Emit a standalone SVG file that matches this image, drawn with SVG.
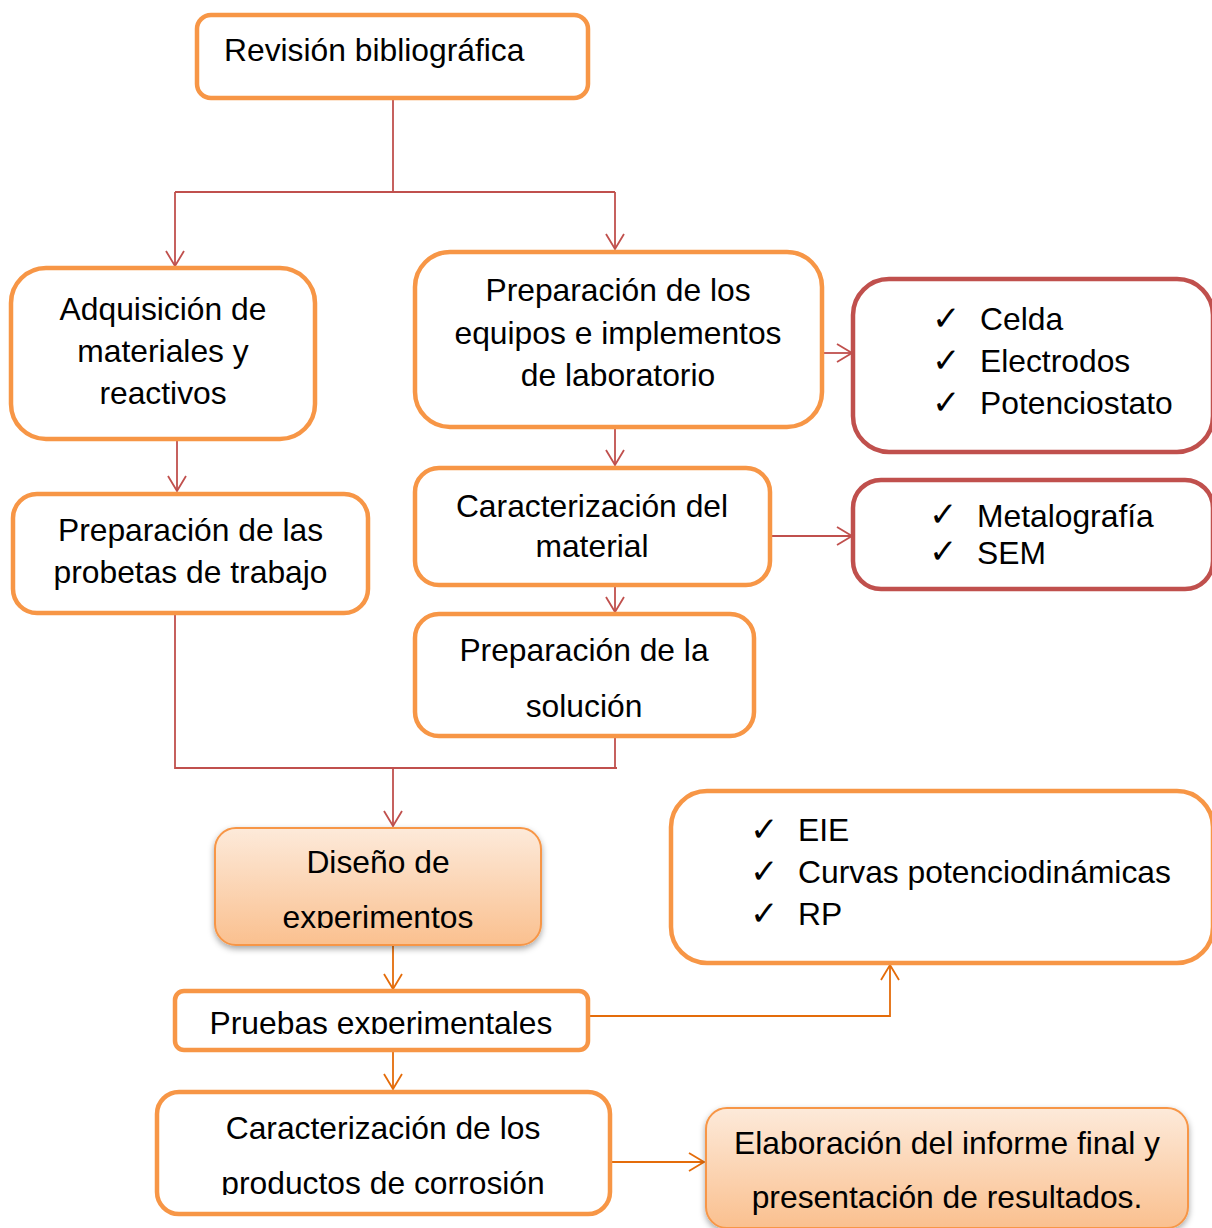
<svg xmlns="http://www.w3.org/2000/svg" width="1212" height="1228" viewBox="0 0 1212 1228">
<style>
  .box { fill: #FFFFFF; stroke: #F79646; stroke-width: 4.5; }
  .rbox { fill: #FFFFFF; stroke: #C0504D; stroke-width: 4.5; }
  .gbox { fill: url(#peach); stroke: #F79646; stroke-width: 2; filter: url(#shadow); }
  .t { font-family: "Liberation Sans", Arial, sans-serif; font-size: 31.8px; fill: #000000; }
  .c { text-anchor: middle; }
  .chk { font-family: "DejaVu Sans", sans-serif; font-size: 34px; fill: #000000; }
  .red { fill: none; stroke: #C0504D; stroke-width: 1.8; }
  .org { fill: none; stroke: #E46C0A; stroke-width: 1.8; }
  .ra { marker-end: url(#arrRed); }
  .oa { marker-end: url(#arrOrg); }
</style>
<defs>
  <linearGradient id="peach" x1="0" y1="0" x2="0" y2="1">
    <stop offset="0" stop-color="#FDEADA"/>
    <stop offset="1" stop-color="#FAC08F"/>
  </linearGradient>
  <filter id="shadow" x="-10%" y="-10%" width="120%" height="130%">
    <feDropShadow dx="0" dy="3" stdDeviation="3" flood-color="#000000" flood-opacity="0.35"/>
  </filter>
  <marker id="arrRed" markerUnits="userSpaceOnUse" markerWidth="20" markerHeight="20" viewBox="0 0 20 20" refX="16" refY="10" orient="auto">
    <path d="M1,1 L16,10 L1,19" fill="none" stroke="#C0504D" stroke-width="1.8"/>
  </marker>
  <marker id="arrOrg" markerUnits="userSpaceOnUse" markerWidth="20" markerHeight="20" viewBox="0 0 20 20" refX="16" refY="10" orient="auto">
    <path d="M1,1 L16,10 L1,19" fill="none" stroke="#E46C0A" stroke-width="1.8"/>
  </marker>
  <clipPath id="clipDis"><rect x="200" y="820" width="360" height="108"/></clipPath>
  <clipPath id="clipPru"><rect x="170" y="985" width="430" height="49"/></clipPath>
  <clipPath id="clipProd"><rect x="150" y="1085" width="470" height="110"/></clipPath>
</defs>

<g id="connectors">
  <polyline class="red" points="393,98 393,192"/>
  <polyline class="red ra" points="175,192 175,266"/>
  <polyline class="red" points="175,192 615,192"/>
  <polyline class="red ra" points="615,192 615,249"/>
  <polyline class="red ra" points="177,440 177,491"/>
  <polyline class="red ra" points="823,353 852,353"/>
  <polyline class="red ra" points="615,427 615,465"/>
  <polyline class="red ra" points="770,536 852,536"/>
  <polyline class="red ra" points="615,586 615,612"/>
  <polyline class="red" points="175,614 175,768 617,768"/>
  <polyline class="red" points="615,736 615,768"/>
  <polyline class="red ra" points="393,768 393,826"/>
  <polyline class="org oa" points="393,946 393,989"/>
  <polyline class="org oa" points="589,1016 890,1016 890,965"/>
  <polyline class="org oa" points="393,1050 393,1089"/>
  <polyline class="org oa" points="611,1162 704,1162"/>
</g>

<g id="n-revision">
  <rect class="box" x="197" y="15" width="391" height="83" rx="14"/>
  <text class="t" x="224" y="61">Revisión bibliográfica</text>
</g>

<g id="n-adquisicion">
  <rect class="box" x="11" y="268" width="304" height="171" rx="35"/>
  <text class="t c" x="163" y="320">Adquisición de</text>
  <text class="t c" x="163" y="362">materiales y</text>
  <text class="t c" x="163" y="404">reactivos</text>
</g>

<g id="n-probetas">
  <rect class="box" x="13" y="494" width="355" height="119" rx="24"/>
  <text class="t c" x="190.5" y="541">Preparación de las</text>
  <text class="t c" x="190.5" y="583">probetas de trabajo</text>
</g>

<g id="n-equipos">
  <rect class="box" x="415" y="252" width="407" height="175" rx="35"/>
  <text class="t c" x="618" y="301">Preparación de los</text>
  <text class="t c" x="618" y="344">equipos e implementos</text>
  <text class="t c" x="618" y="386">de laboratorio</text>
</g>

<g id="n-lista-equipos">
  <rect class="rbox" x="853" y="279" width="360" height="173" rx="36"/>
  <text class="chk" x="932" y="330">✓</text>
  <text class="chk" x="932" y="372">✓</text>
  <text class="chk" x="932" y="414">✓</text>
  <text class="t" x="980" y="330">Celda</text>
  <text class="t" x="980" y="372">Electrodos</text>
  <text class="t" x="980" y="414">Potenciostato</text>
</g>

<g id="n-caracterizacion">
  <rect class="box" x="415" y="468" width="355" height="117" rx="24"/>
  <text class="t c" x="592" y="517">Caracterización del</text>
  <text class="t c" x="592" y="557">material</text>
</g>

<g id="n-lista-caract">
  <rect class="rbox" x="853" y="480" width="360" height="109" rx="28"/>
  <text class="chk" x="929" y="526">✓</text>
  <text class="chk" x="929" y="563">✓</text>
  <text class="t" x="977" y="527">Metalografía</text>
  <text class="t" x="977" y="564">SEM</text>
</g>

<g id="n-solucion">
  <rect class="box" x="415" y="614" width="339" height="122" rx="24"/>
  <text class="t c" x="584" y="661">Preparación de la</text>
  <text class="t c" x="584" y="717">solución</text>
</g>

<g id="n-diseno">
  <rect class="gbox" x="215" y="828" width="326" height="117" rx="21"/>
  <g clip-path="url(#clipDis)">
    <text class="t c" x="378" y="873">Diseño de</text>
    <text class="t c" x="378" y="928">experimentos</text>
  </g>
</g>

<g id="n-pruebas">
  <rect class="box" x="175" y="991" width="413" height="59" rx="9"/>
  <g clip-path="url(#clipPru)">
    <text class="t c" x="381" y="1034">Pruebas experimentales</text>
  </g>
</g>

<g id="n-lista-pruebas">
  <rect class="box" x="671" y="791" width="542" height="172" rx="36"/>
  <text class="chk" x="750" y="841">✓</text>
  <text class="chk" x="750" y="883">✓</text>
  <text class="chk" x="750" y="925">✓</text>
  <text class="t" x="798" y="841">EIE</text>
  <text class="t" x="798" y="883">Curvas potenciodinámicas</text>
  <text class="t" x="798" y="925">RP</text>
</g>

<g id="n-productos">
  <rect class="box" x="157" y="1092" width="453" height="122" rx="22"/>
  <g clip-path="url(#clipProd)">
    <text class="t c" x="383" y="1139">Caracterización de los</text>
    <text class="t c" x="383" y="1194">productos de corrosión</text>
  </g>
</g>

<g id="n-informe">
  <rect class="gbox" x="706" y="1108" width="482" height="120" rx="21"/>
  <text class="t c" x="947" y="1154">Elaboración del informe final y</text>
  <text class="t c" x="947" y="1208">presentación de resultados.</text>
</g>
</svg>
